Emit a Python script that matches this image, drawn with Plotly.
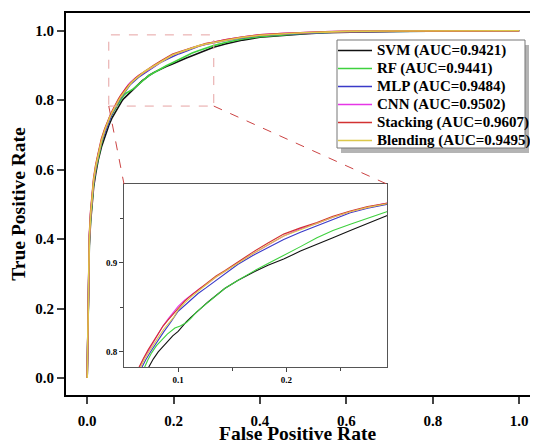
import plotly.graph_objects as go

# ROC curves (false positive rate, true positive rate)
svm_fpr = [0, 0.001, 0.002, 0.003, 0.005, 0.008, 0.011, 0.015, 0.02, 0.026, 0.033, 0.042, 0.05, 0.058,
           0.066, 0.0724, 0.077, 0.0816, 0.086, 0.0908, 0.095, 0.1, 0.104, 0.1077, 0.112, 0.117, 0.122,
           0.1276, 0.135, 0.143, 0.155, 0.169, 0.183, 0.1975, 0.213, 0.2282, 0.243, 0.259, 0.275, 0.2926,
           0.32, 0.36, 0.4, 0.45, 0.5, 0.55, 0.6, 0.7, 0.8, 0.9, 1.0]
svm_tpr = [0, 0.09, 0.19, 0.29, 0.38, 0.45, 0.50, 0.55, 0.59, 0.63, 0.665, 0.70, 0.727, 0.750,
           0.768, 0.782, 0.792, 0.8, 0.806, 0.812, 0.818, 0.823, 0.829, 0.834, 0.839, 0.845, 0.850,
           0.856, 0.863, 0.871, 0.880, 0.889, 0.897, 0.904, 0.913, 0.921, 0.928, 0.936, 0.944, 0.9526,
           0.962, 0.973, 0.981, 0.987, 0.991, 0.994, 0.996, 0.998, 0.999, 1.0, 1.0]

rf_fpr = [0, 0.001, 0.002, 0.003, 0.005, 0.008, 0.011, 0.015, 0.02, 0.026, 0.033, 0.041, 0.049, 0.056,
          0.063, 0.0687, 0.072, 0.0755, 0.080, 0.0847, 0.090, 0.097, 0.102, 0.1077, 0.112, 0.117, 0.1276,
          0.135, 0.143, 0.155, 0.169, 0.183, 0.1975, 0.213, 0.2282, 0.243, 0.259, 0.275, 0.2926,
          0.32, 0.36, 0.4, 0.45, 0.5, 0.55, 0.6, 0.7, 0.8, 0.9, 1.0]
rf_tpr = [0, 0.10, 0.20, 0.30, 0.39, 0.46, 0.51, 0.56, 0.60, 0.64, 0.675, 0.708, 0.735, 0.755,
          0.771, 0.782, 0.791, 0.799, 0.807, 0.8137, 0.820, 0.8267, 0.829, 0.833, 0.838, 0.845, 0.856,
          0.863, 0.871, 0.880, 0.890, 0.899, 0.908, 0.918, 0.928, 0.936, 0.943, 0.950, 0.957,
          0.966, 0.976, 0.983, 0.988, 0.992, 0.995, 0.997, 0.998, 0.999, 1.0, 1.0]

mlp_fpr = [0, 0.001, 0.002, 0.003, 0.005, 0.008, 0.011, 0.015, 0.02, 0.026, 0.033, 0.042, 0.05, 0.056,
           0.062, 0.066, 0.070, 0.075, 0.0816, 0.087, 0.093, 0.1, 0.106, 0.112, 0.1184, 0.126, 0.134,
           0.143, 0.155, 0.169, 0.183, 0.1975, 0.213, 0.2282, 0.243, 0.259, 0.275, 0.2926,
           0.32, 0.36, 0.4, 0.45, 0.5, 0.55, 0.6, 0.7, 0.8, 0.9, 1.0]
mlp_tpr = [0, 0.10, 0.20, 0.31, 0.40, 0.47, 0.515, 0.565, 0.605, 0.645, 0.68, 0.712, 0.738, 0.756,
           0.772, 0.782, 0.791, 0.801, 0.8137, 0.823, 0.833, 0.8456, 0.852, 0.859, 0.8655, 0.872, 0.879,
           0.8878, 0.898, 0.908, 0.917, 0.926, 0.934, 0.941, 0.948, 0.956, 0.961, 0.966,
           0.972, 0.980, 0.986, 0.990, 0.993, 0.995, 0.997, 0.998, 0.999, 1.0, 1.0]

cnn_fpr = [0, 0.001, 0.002, 0.003, 0.005, 0.008, 0.011, 0.015, 0.02, 0.026, 0.033, 0.041, 0.048, 0.054,
           0.059, 0.0638, 0.068, 0.0724, 0.077, 0.0816, 0.086, 0.0908, 0.095, 0.1, 0.106, 0.1123, 0.12,
           0.1276, 0.135, 0.143, 0.155, 0.169, 0.183, 0.1975, 0.213, 0.2282, 0.243, 0.259, 0.275, 0.2926,
           0.32, 0.36, 0.4, 0.45, 0.5, 0.55, 0.6, 0.7, 0.8, 0.9, 1.0]
cnn_tpr = [0, 0.10, 0.21, 0.32, 0.405, 0.475, 0.52, 0.57, 0.61, 0.648, 0.684, 0.715, 0.74, 0.757,
           0.770, 0.782, 0.792, 0.801, 0.811, 0.820, 0.829, 0.837, 0.844, 0.851, 0.858, 0.864, 0.871,
           0.877, 0.884, 0.890, 0.900, 0.910, 0.920, 0.930, 0.938, 0.944, 0.951, 0.957, 0.962, 0.967,
           0.974, 0.982, 0.988, 0.992, 0.995, 0.997, 0.998, 0.999, 1.0, 1.0, 1.0]

stk_fpr = [0, 0.001, 0.002, 0.003, 0.005, 0.008, 0.011, 0.015, 0.02, 0.026, 0.033, 0.041, 0.048, 0.054,
           0.059, 0.0632, 0.068, 0.0724, 0.077, 0.0816, 0.086, 0.0908, 0.095, 0.1, 0.106, 0.1123, 0.12,
           0.1276, 0.135, 0.143, 0.155, 0.169, 0.183, 0.1975, 0.213, 0.2282, 0.243, 0.259, 0.275, 0.2926,
           0.32, 0.36, 0.4, 0.45, 0.5, 0.55, 0.6, 0.7, 0.8, 0.9, 1.0]
stk_tpr = [0, 0.11, 0.22, 0.33, 0.41, 0.48, 0.525, 0.575, 0.615, 0.652, 0.688, 0.718, 0.742, 0.758,
           0.771, 0.782, 0.793, 0.8026, 0.812, 0.821, 0.829, 0.836, 0.842, 0.849, 0.857, 0.8637, 0.871,
           0.878, 0.885, 0.891, 0.901, 0.9118, 0.922, 0.932, 0.939, 0.945, 0.952, 0.958, 0.963, 0.967,
           0.974, 0.982, 0.988, 0.992, 0.995, 0.997, 0.998, 0.999, 1.0, 1.0, 1.0]

bld_fpr = [0, 0.001, 0.002, 0.003, 0.005, 0.008, 0.011, 0.015, 0.02, 0.026, 0.033, 0.041, 0.048, 0.054,
           0.060, 0.0648, 0.069, 0.0735, 0.078, 0.0826, 0.087, 0.0918, 0.096, 0.1, 0.106, 0.1123, 0.12,
           0.1276, 0.135, 0.143, 0.155, 0.169, 0.183, 0.1975, 0.213, 0.2282, 0.243, 0.259, 0.275, 0.2926,
           0.32, 0.36, 0.4, 0.45, 0.5, 0.55, 0.6, 0.7, 0.8, 0.9, 1.0]
bld_tpr = [0, 0.10, 0.21, 0.32, 0.40, 0.47, 0.52, 0.57, 0.61, 0.648, 0.683, 0.714, 0.739, 0.756,
           0.770, 0.782, 0.792, 0.801, 0.810, 0.818, 0.826, 0.833, 0.839, 0.847, 0.855, 0.862, 0.870,
           0.877, 0.884, 0.890, 0.900, 0.910, 0.920, 0.930, 0.937, 0.944, 0.951, 0.957, 0.962, 0.966,
           0.973, 0.981, 0.987, 0.991, 0.994, 0.996, 0.998, 0.999, 1.0, 1.0, 1.0]

names = ["SVM (AUC=0.9421)", "RF (AUC=0.9441)", "MLP (AUC=0.9484)",
         "CNN (AUC=0.9502)", "Stacking (AUC=0.9607)", "Blending (AUC=0.9495)"]
colors = ["#111111", "#3fd13f", "#3a3ac8", "#e636e6", "#d23232", "#dcc84a"]
curves = [(svm_fpr, svm_tpr), (rf_fpr, rf_tpr), (mlp_fpr, mlp_tpr),
          (cnn_fpr, cnn_tpr), (stk_fpr, stk_tpr), (bld_fpr, bld_tpr)]

FONT = "Liberation Serif"
# the page body adds an 8px margin, so the figure is 8px smaller than the window
OFF = 8
W, H = 538 - OFF, 443 - OFF
ml, mr, mt, mb = 66 - OFF, 8, 13 - OFF, 48
pw, ph = W - ml - mr, H - mt - mb

xr = [-0.049, 1.025]
yr = [-0.049, 1.051]
zx = [0.05, 0.293]
zy = [0.783, 0.988]
dom_x = [0.125, 0.692]
dom_y = [0.073, 0.552]


def px_x(p):
    # window pixel -> paper fraction
    return (p - OFF - ml) / pw


def px_y(p):
    return (H - mb - (p - OFF)) / ph


def to_main(fx, fy):
    return (xr[0] + fx * (xr[1] - xr[0]), yr[0] + fy * (yr[1] - yr[0]))


fig = go.Figure()
for (fpr, tpr), nm, c in zip(curves, names, colors):
    fig.add_trace(go.Scatter(x=fpr, y=tpr, mode="lines", name=nm, showlegend=False,
                             line=dict(color=c, width=1.6)))
for (fpr, tpr), nm, c in zip(curves, names, colors):
    fig.add_trace(go.Scatter(x=fpr, y=tpr, mode="lines", name=nm, showlegend=False,
                             line=dict(color=c, width=1.1), xaxis="x2", yaxis="y2"))

tl = to_main(dom_x[0], dom_y[1])
tr = to_main(dom_x[1], dom_y[1])
shapes = [
    dict(type="rect", xref="x", yref="y", x0=zx[0], x1=zx[1], y0=zy[0], y1=zy[1],
         line=dict(color="#e6a3a3", width=1, dash="dash")),
    dict(type="line", xref="x", yref="y", x0=zx[0], y0=zy[0], x1=tl[0], y1=tl[1],
         line=dict(color="#cc4444", width=1, dash="dash")),
    dict(type="line", xref="x", yref="y", x0=zx[1], y0=zy[0], x1=tr[0], y1=tr[1],
         line=dict(color="#cc4444", width=1, dash="dash")),
]

# legend box drawn by hand so the row spacing matches
lg_l, lg_r, lg_t, lg_b = 337, 525, 40, 148
shapes.append(dict(type="rect", xref="paper", yref="paper",
                   x0=px_x(lg_l + 4), x1=px_x(lg_r + 4), y0=px_y(lg_b + 5), y1=px_y(lg_t + 5),
                   fillcolor="#b4b4b4", line=dict(width=0)))
shapes.append(dict(type="rect", xref="paper", yref="paper",
                   x0=px_x(lg_l), x1=px_x(lg_r), y0=px_y(lg_b), y1=px_y(lg_t),
                   fillcolor="white", line=dict(color="#777777", width=1)))
annotations = []
for i, (nm, c) in enumerate(zip(names, colors)):
    row_y = lg_t + 10.5 + i * 18
    shapes.append(dict(type="line", xref="paper", yref="paper",
                       x0=px_x(lg_l + 1), x1=px_x(lg_l + 35), y0=px_y(row_y), y1=px_y(row_y),
                       line=dict(color=c, width=1.6)))
    annotations.append(dict(x=px_x(lg_l + 38), y=px_y(row_y), xref="paper", yref="paper",
                            text=nm, showarrow=False, xanchor="left", yanchor="middle",
                            font=dict(family=FONT, size=15, color="black", weight="bold")))

# x axis title placed directly under the tick labels, as in the figure
annotations.append(dict(x=px_x(297), y=px_y(433), xref="paper", yref="paper",
                        text="False Positive Rate", showarrow=False,
                        xanchor="center", yanchor="middle",
                        font=dict(family=FONT, size=19.5, color="black", weight="bold")))

fig.update_layout(
    width=W, height=H,
    margin=dict(l=ml, r=mr, t=mt, b=mb),
    paper_bgcolor="white", plot_bgcolor="white",
    font=dict(family=FONT, color="black", weight="bold"),
    showlegend=False,
    shapes=shapes,
    annotations=annotations,
    xaxis=dict(range=xr, showgrid=False, zeroline=False, showline=True, mirror=True,
               linecolor="black", linewidth=2, ticks="outside", ticklen=7, tickwidth=1.5,
               tickvals=[0, 0.2, 0.4, 0.6, 0.8, 1.0], tickformat=".1f", automargin=False,
               ticklabelstandoff=4, tickfont=dict(size=15)),
    yaxis=dict(range=yr, showgrid=False, zeroline=False, showline=True, mirror=True,
               linecolor="black", linewidth=2, ticks="outside", ticklen=7, tickwidth=1.5,
               tickvals=[0, 0.2, 0.4, 0.6, 0.8, 1.0], tickformat=".1f", automargin=False,
               tickfont=dict(size=15), title=dict(text="True Positive Rate",
                                                   font=dict(size=19.5), standoff=4)),
    xaxis2=dict(domain=dom_x, anchor="y2", range=zx, showgrid=False, zeroline=False,
                showline=True, mirror=True, linecolor="#555555", linewidth=1,
                ticks="outside", ticklen=4, tickvals=[0.1, 0.2], tickformat=".1f",
                tickfont=dict(size=9), automargin=False,
                minor=dict(tickvals=[0.15, 0.25], ticks="outside", ticklen=3)),
    yaxis2=dict(domain=dom_y, anchor="x2", range=zy, showgrid=False, zeroline=False,
                showline=True, mirror=True, linecolor="#555555", linewidth=1,
                ticks="outside", ticklen=4, tickvals=[0.8, 0.9], tickformat=".1f",
                tickfont=dict(size=9), automargin=False,
                minor=dict(tickvals=[0.85, 0.95], ticks="outside", ticklen=3)),
)

fig.write_html("out.html")
